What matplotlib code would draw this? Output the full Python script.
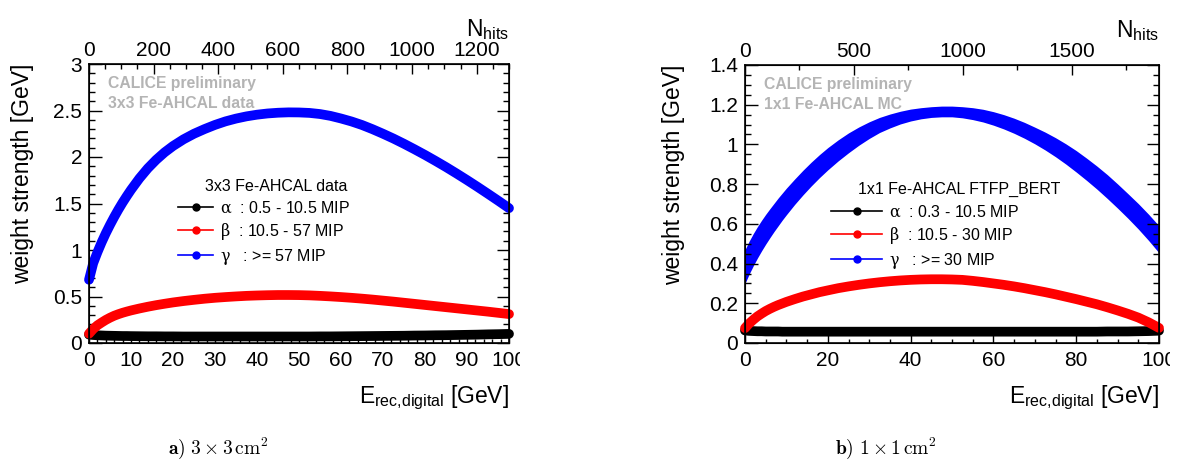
import matplotlib
matplotlib.use('Agg')
import matplotlib.pyplot as plt
from matplotlib.lines import Line2D
from matplotlib.ticker import MultipleLocator, FormatStrFormatter
from matplotlib.transforms import Bbox

plt.rcParams['font.family'] = ['Liberation Sans', 'DejaVu Sans']
plt.rcParams['mathtext.fontset'] = 'custom'
plt.rcParams['mathtext.rm'] = 'Liberation Sans'
plt.rcParams['mathtext.it'] = 'Liberation Sans:italic'
plt.rcParams['mathtext.bf'] = 'Liberation Sans:bold'

# reconstructed energy [GeV]
e_rec = [0, 1, 2, 3, 4, 5, 6, 7, 8, 9, 10, 12, 14, 16, 18, 20,
         22.5, 25, 27.5, 30, 32.5, 35, 37.5, 40, 42.5, 45, 47.5, 50,
         52.5, 55, 57.5, 60, 62.5, 65, 67.5, 70, 72.5, 75, 77.5, 80,
         82.5, 85, 87.5, 90, 92.5, 95, 97.5, 100]

# 3x3 Fe-AHCAL data, weight per hit-energy class [GeV]
w3_alpha = [0.09, 0.086, 0.083, 0.081, 0.079, 0.078, 0.077, 0.076, 0.075, 0.075, 0.074,
            0.073, 0.072, 0.072, 0.071, 0.071,
            0.07, 0.07, 0.07, 0.07, 0.07, 0.07, 0.07, 0.07, 0.07, 0.07, 0.07, 0.07,
            0.07, 0.071, 0.071, 0.072, 0.073, 0.074, 0.075, 0.076, 0.077, 0.078, 0.08, 0.081,
            0.083, 0.084, 0.086, 0.088, 0.09, 0.093, 0.095, 0.098]
w3_beta = [0.10, 0.15, 0.19, 0.22, 0.248, 0.272, 0.293, 0.31, 0.325, 0.338, 0.35,
           0.371, 0.39, 0.407, 0.422, 0.436,
           0.451, 0.464, 0.476, 0.486, 0.494, 0.501, 0.507, 0.511, 0.514, 0.516, 0.516, 0.515,
           0.512, 0.507, 0.501, 0.494, 0.486, 0.477, 0.467, 0.456, 0.445, 0.433, 0.421, 0.409,
           0.397, 0.385, 0.373, 0.361, 0.349, 0.337, 0.324, 0.311]
w3_gamma = [0.68, 0.858, 0.975, 1.082, 1.18, 1.27, 1.355, 1.435, 1.51, 1.58, 1.647,
            1.77, 1.878, 1.97, 2.05, 2.118,
            2.19, 2.25, 2.30, 2.345, 2.383, 2.413, 2.437, 2.455, 2.468, 2.476, 2.48, 2.479,
            2.474, 2.462, 2.442, 2.414, 2.382, 2.344, 2.299, 2.25, 2.198, 2.142, 2.083, 2.022,
            1.958, 1.892, 1.823, 1.752, 1.679, 1.604, 1.528, 1.45]

# 1x1 Fe-AHCAL FTFP_BERT MC
w1_alpha = [0.063, 0.061, 0.06, 0.059, 0.059, 0.058, 0.058, 0.058, 0.058, 0.057, 0.057,
            0.057, 0.057, 0.057, 0.057, 0.057,
            0.057, 0.057, 0.057, 0.057, 0.057, 0.057, 0.057, 0.057, 0.057, 0.057, 0.057, 0.057,
            0.057, 0.057, 0.057, 0.057, 0.057, 0.057, 0.057, 0.057, 0.057, 0.057, 0.057, 0.057,
            0.057, 0.057, 0.058, 0.058, 0.058, 0.059, 0.06, 0.062]
w1_beta = [0.075, 0.098, 0.117, 0.134, 0.148, 0.161, 0.172, 0.182, 0.191, 0.199, 0.207,
           0.221, 0.234, 0.245, 0.256, 0.265,
           0.276, 0.285, 0.293, 0.30, 0.306, 0.311, 0.315, 0.318, 0.32, 0.321, 0.321, 0.32,
           0.318, 0.313, 0.307, 0.30, 0.293, 0.285, 0.276, 0.266, 0.256, 0.245, 0.233, 0.221,
           0.208, 0.195, 0.18, 0.164, 0.147, 0.128, 0.104, 0.076]
# gamma weights spread into a band: centre and half width
w1_gamma = [0.385, 0.43, 0.47, 0.507, 0.541, 0.573, 0.603, 0.632, 0.66, 0.687, 0.713,
            0.762, 0.808, 0.851, 0.891, 0.928,
            0.97, 1.008, 1.042, 1.072, 1.098, 1.118, 1.135, 1.148, 1.157, 1.163, 1.166, 1.166,
            1.162, 1.155, 1.145, 1.131, 1.114, 1.094, 1.071, 1.045, 1.017, 0.986, 0.952, 0.915,
            0.875, 0.833, 0.788, 0.74, 0.69, 0.638, 0.582, 0.522]
w1_gamma_hw = [0.085, 0.083, 0.081, 0.079, 0.077, 0.075, 0.073, 0.071, 0.07, 0.068, 0.067,
               0.064, 0.062, 0.06, 0.058, 0.056,
               0.053, 0.05, 0.046, 0.042, 0.038, 0.035, 0.032, 0.03, 0.028, 0.027, 0.027, 0.027,
               0.028, 0.03, 0.032, 0.034, 0.036, 0.038, 0.04, 0.042, 0.045, 0.048, 0.051, 0.054,
               0.056, 0.058, 0.06, 0.061, 0.062, 0.064, 0.066, 0.068]

nhits_max = [1300, 1900]

fig = plt.figure(figsize=(11.91, 4.66), dpi=100)
W, H = 1191, 466
FS_TICK = 15
FS_TITLE = 16.5
FS_LEG = 11.5


def make_axes(x0, x1, y0, y1):
    return fig.add_axes([x0 / W, 1 - y1 / H, (x1 - x0) / W, (y1 - y0) / H])


def style_axes(ax, xmaj, xmin, ymaj, ymin, ymax, nmax, nmaj, nmin):
    ax.set_xlim(0, 100)
    ax.set_ylim(0, ymax)
    ax.xaxis.set_major_locator(MultipleLocator(xmaj))
    ax.xaxis.set_minor_locator(MultipleLocator(xmin))
    ax.yaxis.set_major_locator(MultipleLocator(ymaj))
    ax.yaxis.set_minor_locator(MultipleLocator(ymin))
    ax.yaxis.set_major_formatter(FormatStrFormatter('%g'))
    ax.tick_params(which='both', direction='in', right=True, top=False, width=1.0,
                   labelsize=FS_TICK)
    ax.tick_params(axis='x', which='major', length=6, pad=6)
    ax.tick_params(axis='x', which='minor', length=3)
    ax.tick_params(axis='y', which='major', length=9, pad=5)
    ax.tick_params(axis='y', which='minor', length=4.5)
    for s in ax.spines.values():
        s.set_linewidth(1.2)
    top = ax.twiny()
    top.set_xlim(0, nmax)
    top.xaxis.set_major_locator(MultipleLocator(nmaj))
    top.xaxis.set_minor_locator(MultipleLocator(nmin))
    top.tick_params(which='both', direction='in', width=1.0, labelsize=FS_TICK, pad=3)
    top.tick_params(which='major', length=7)
    top.tick_params(which='minor', length=3.5)
    top.set_xlabel(r'$\mathregular{N_{hits}}$', fontsize=FS_TITLE, loc='right')
    top.xaxis.set_label_coords(1.0, 1.1)
    ax.set_xlabel(r'$\mathregular{E_{rec{,}digital}}$ [GeV]', fontsize=FS_TITLE, loc='right')
    ax.xaxis.set_label_coords(1.0, -0.145)
    ax.set_ylabel('weight strength [GeV]', fontsize=FS_TITLE, loc='top')
    return top


def legend(ax, x, y, header, hx, hy, labels, hlen):
    ax.text(hx, hy, header, transform=ax.transAxes, fontsize=FS_LEG, va='center', ha='left')
    handles = [Line2D([], [], color=c, marker='o', markersize=5, lw=1.2)
               for c in ['black', 'red', 'blue']]
    leg = ax.legend(handles, labels, loc='upper left', bbox_to_anchor=(x, y), frameon=False,
                    fontsize=FS_LEG, borderpad=0, borderaxespad=0, handlelength=hlen,
                    handletextpad=0.4, labelspacing=0.32, numpoints=1)
    for t in leg.get_texts():
        t.set_math_fontfamily('dejavuserif')
    return leg


def tag(ax, lines):
    for txt, y in zip(lines, [0.931, 0.859]):
        ax.text(0.046, y, txt, transform=ax.transAxes, color='#b4b4b4',
                fontsize=11.3, fontweight='bold', va='center')


band = 7

# left: 3x3 cells
ax1 = make_axes(89, 509, 64, 343)
style_axes(ax1, 10, 2, 0.5, 0.1, 3, nhits_max[0], 200, 50)
ax1.yaxis.set_label_coords(-0.13, 1.0)
ax1.plot(e_rec, w3_alpha, color='black', lw=band, solid_capstyle='round', clip_on=False)
ax1.plot(e_rec, w3_beta, color='red', lw=band, solid_capstyle='round', clip_on=False)
ax1.plot(e_rec, w3_gamma, color='blue', lw=band, solid_capstyle='round', clip_on=False)
tag(ax1, ['CALICE preliminary', '3x3 Fe-AHCAL data'])
legend(ax1, 0.212, 0.512, '3x3 Fe-AHCAL data', 0.277, 0.56,
       [r'$\mathrm{\alpha}$  : 0.5 - 10.5 MIP', r'$\mathrm{\beta}$  : 10.5 - 57 MIP',
        r'$\mathrm{\gamma}$   : >= 57 MIP'], 2.2)

# right: 1x1 cells
ax2 = make_axes(745, 1159, 65, 343)
style_axes(ax2, 20, 5, 0.2, 0.05, 1.4, nhits_max[1], 500, 250)
ax2.yaxis.set_label_coords(-0.145, 1.0)
ax2.plot(e_rec, w1_alpha, color='black', lw=band, solid_capstyle='round', clip_on=False)
ax2.plot(e_rec, w1_beta, color='red', lw=band, solid_capstyle='round', clip_on=False)
g_lo = [c - h for c, h in zip(w1_gamma, w1_gamma_hw)]
g_hi = [c + h for c, h in zip(w1_gamma, w1_gamma_hw)]
ax2.fill_between(e_rec, g_lo, g_hi, color='blue', lw=0, clip_on=False)
tag(ax2, ['CALICE preliminary', '1x1 Fe-AHCAL MC'])
legend(ax2, 0.208, 0.50, '1x1 Fe-AHCAL FTFP_BERT', 0.273, 0.554,
       [r'$\mathrm{\alpha}$  : 0.3 - 10.5 MIP', r'$\mathrm{\beta}$  : 10.5 - 30 MIP',
        r'$\mathrm{\gamma}$   : >= 30 MIP'], 3.2)

# sub-captions
fig.text(168 / W, 1 - 448 / H, r'$\mathbf{a)}\ 3\times3\,\mathrm{cm}^2$', fontsize=14,
         math_fontfamily='cm', va='center', ha='left')
fig.text(835 / W, 1 - 448 / H, r'$\mathbf{b)}\ 1\times1\,\mathrm{cm}^2$', fontsize=14,
         math_fontfamily='cm', va='center', ha='left')

# the last energy label runs past the pad edge and gets cut there
fig.canvas.draw()
for ax, xcut in [(ax1, 520), (ax2, 1170)]:
    for lab in ax.get_xticklabels():
        lab.set_clip_box(Bbox.from_extents(0, 0, xcut, H))
        lab.set_clip_on(True)

fig.savefig('out.png', dpi=100)
